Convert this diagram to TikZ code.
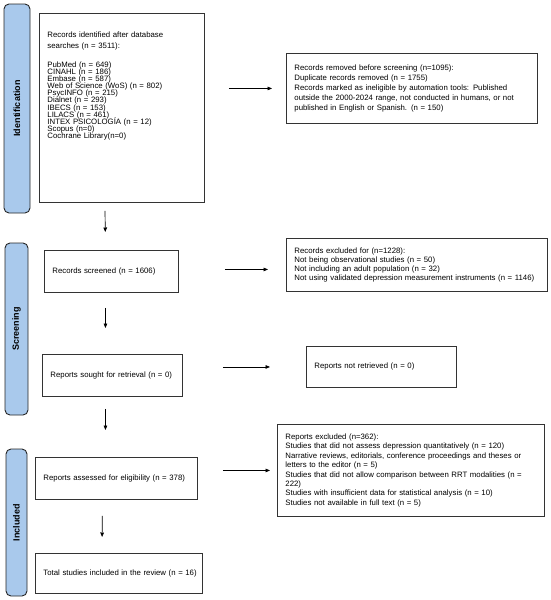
\documentclass[tikz,border=0pt]{standalone}
\usepackage{fontspec}
\setmainfont{Liberation Sans}
\usetikzlibrary{arrows.meta}
\definecolor{phaseblue}{HTML}{A9C9EC}
\newcommand\tightlines{\lineskiplimit=-5pt\relax}

\begin{document}
\begin{tikzpicture}[x=1pt,y=-1pt,
  box/.style={draw=black!80, line width=0.9pt, anchor=north west, align=left,
    inner xsep=8pt, inner ysep=0pt, font=\fontsize{7.8pt}{9.4pt}\selectfont\tightlines},
  phase/.style={draw=black!85, fill=phaseblue, line width=0.9pt, rounded corners=5pt,
    rotate=90, inner sep=0pt, font=\bfseries\fontsize{9pt}{10pt}\selectfont},
  arr/.style={-{Triangle[length=4.5pt,width=3.6pt]}, line width=0.7pt}]
%\draw[help lines] (0,0) grid[step=50] (550,600);
\useasboundingbox (0,0) rectangle (550,600);

% phases
\node[phase, minimum width=209pt, minimum height=26pt] (identification) at (17,108.5) {Identification};
\node[phase, minimum width=172pt, minimum height=23pt] (screening) at (16.5,329) {Screening};
\node[phase, minimum width=147pt, minimum height=21pt] (included) at (16.5,522.5) {Included};

% left column
\node[box, text width=149pt, minimum height=189pt] (records) at (39,13)
 {Records identified after database\\[1.3pt]searches (n = 3511):\\[9.6pt]
  PubMed (n = 649)\\[-2.3pt]CINAHL (n = 186)\\[-2.3pt]Embase (n = 587)\\[-2.3pt]Web of Science (WoS) (n = 802)\\[-2.3pt]
  PsycINFO (n = 215)\\[-2.3pt]Dialnet (n = 293)\\[-2.3pt]IBECS (n = 153)\\[-2.3pt]LILACS (n = 461)\\[-2.3pt]
  INTEX PSICOLOGÍA (n = 12)\\[-2.3pt]Scopus (n=0)\\[-2.3pt]Cochrane Library(n=0)\\[36pt]\mbox{}};
\node[box, text width=118pt, minimum height=42pt] (screened) at (44,250) {\mbox{Records screened (n = 1606)}};
\node[box, text width=124pt, minimum height=42pt] (sought) at (42,354) {\mbox{Reports sought for retrieval (n = 0)}};
\node[box, text width=146pt, minimum height=42pt] (assessed) at (35,457) {\mbox{Reports assessed for eligibility (n = 378)}};
\node[box, text width=151pt, minimum height=40pt] (total) at (35,553) {\mbox{Total studies included in the review (n = 16)}};

% right column
\node[box, text width=235pt, minimum height=70pt, font=\fontsize{7.8pt}{10.2pt}\selectfont] (removed) at (286,53)
 {Records removed before screening (n=1095):\\Duplicate records removed (n = 1755)\\
  Records marked as ineligible by automation tools: Published\\
  outside the 2000-2024 range, not conducted in humans, or not\\
  published in English or Spanish. (n = 150)};
\node[box, text width=245pt, minimum height=53pt, font=\fontsize{7.8pt}{8.7pt}\selectfont\tightlines] (excluded) at (286,238)
 {Records excluded for (n=1228):\\Not being observational studies (n = 50)\\
  Not including an adult population (n = 32)\\
  \mbox{Not using validated depression measurement instruments (n = 1146)}};
\node[box, text width=134pt, minimum height=41pt] (notretrieved) at (306,346) {\mbox{Reports not retrieved (n = 0)}};
\node[box, text width=251pt, minimum height=92pt] (reportsexcluded) at (277,424)
 {Reports excluded (n=362):\\Studies that did not assess depression quantitatively (n = 120)\\
  \makebox[\hsize][s]{Narrative reviews, editorials, conference proceedings and theses or}\\
  letters to the editor (n = 5)\\
  \makebox[\hsize][s]{Studies that did not allow comparison between RRT modalities (n =}\\222)\\
  Studies with insufficient data for statistical analysis (n = 10)\\
  Studies not available in full text (n = 5)};

% arrows down
\draw[arr, shorten <=8pt, shorten >=18pt] ([xshift=-17pt]records.south) -- ([xshift=-6pt]screened.north);
\draw[arr, shorten <=15pt, shorten >=26pt] ([xshift=-6pt]screened.south) -- ([xshift=-7pt]sought.north);
\draw[arr, shorten <=12pt, shorten >=27pt] ([xshift=-7pt]sought.south) -- ([xshift=-11pt]assessed.north);
\draw[arr, shorten <=16pt, shorten >=16pt] ([xshift=-14pt]assessed.south) -- ([xshift=-17pt]total.north);

% arrows right
\draw[arr, shorten <=24pt, shorten >=14pt] (records.east |- removed.west) -- (removed.west);
\draw[arr, shorten <=46pt, shorten >=18pt] ([yshift=2pt]screened.east) -- ([yshift=2pt]screened.east -| excluded.west);
\draw[arr, shorten <=40pt, shorten >=36pt] (sought.east |- notretrieved.west) -- (notretrieved.west);
\draw[arr, shorten <=25pt, shorten >=7pt] (assessed.east |- reportsexcluded.west) -- (reportsexcluded.west);

\end{tikzpicture}
\end{document}
